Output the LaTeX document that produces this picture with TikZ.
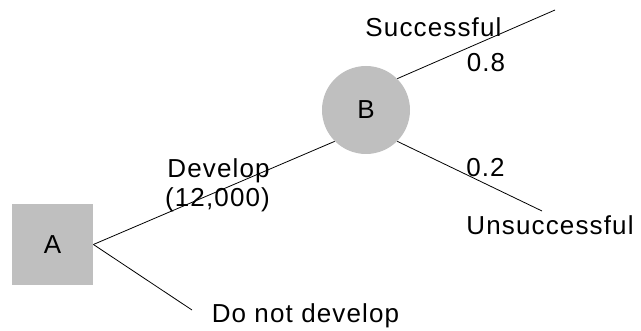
\documentclass[tikz,border=0pt]{standalone}
\usepackage{fontspec}
\setmainfont{Liberation Sans}[LetterSpace=4.4]
\usetikzlibrary{positioning}
\begin{document}
\begin{tikzpicture}[x=1pt,y=-1pt,font=\fontsize{26}{30}\selectfont,line width=0.8pt]

\tikzstyle{decision}=[fill=black!25,minimum size=81pt,inner sep=0pt]
\tikzstyle{chance}=[fill=black!25,circle,minimum size=88pt,inner sep=0pt]
\tikzstyle{lbl}=[anchor=base,inner sep=0pt]

\useasboundingbox (0,0) rectangle (641,331);

    \node[decision]		(A) at (52.5,244.5) {A};
    \node[chance]		(B) at (366,110) {B};

    \coordinate (succ) at (555,10);
    \coordinate (fail) at (542,211);
    \coordinate (nodev) at (192,310);

    \node[lbl] (develop) at (218.5,178) {Develop};
    \node[lbl] (cost) at (217.5,207) {(12,000)};
    \node[lbl] (succlbl) at (433.5,37) {Successful};
    \node[lbl] (psucc) at (486,72) {0.8};
    \node[lbl] (pfail) at (485.5,177) {0.2};
    \node[lbl] (faillbl) at (550,235) {Unsuccessful};
    \node[lbl] (nodevlbl) at (305.5,323) {Do not develop};

	\path
	(A.east) edge (B.south west)
	         edge (nodev)
	(B.north east) edge (succ)
	(B.south east) edge (fail);

\end{tikzpicture}
\end{document}
